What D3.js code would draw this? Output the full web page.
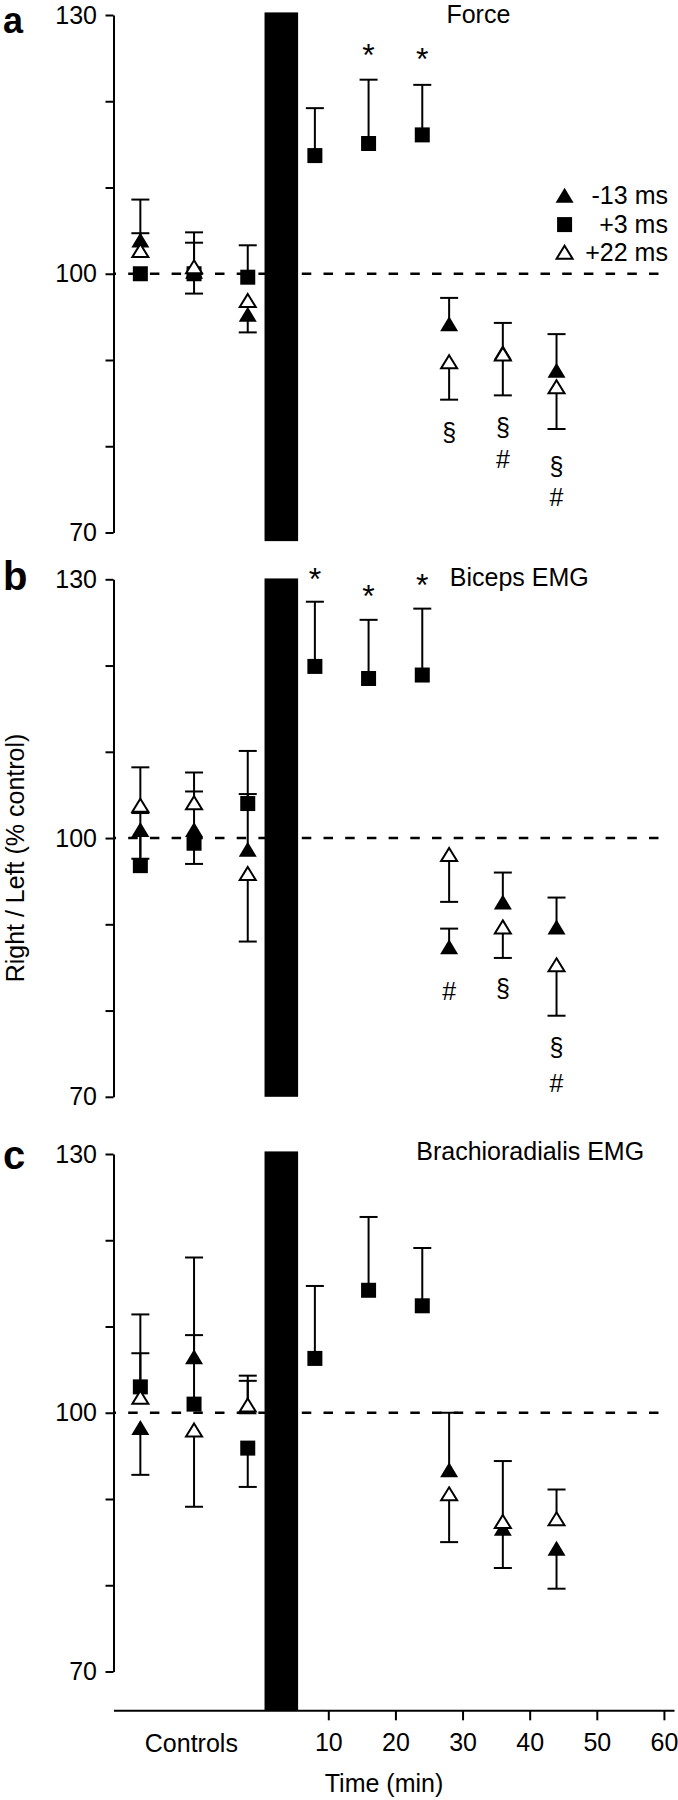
<!DOCTYPE html>
<html>
<head>
<meta charset="utf-8">
<script src="https://cdn.jsdelivr.net/npm/d3@7"></script>
<style>
  body { margin: 0; background: #fff; }
  svg text { font-family: "Liberation Sans", Arial, Helvetica, sans-serif; fill: #000; }
</style>
</head>
<body>
<div id="chart"></div>
<script>
// time points (min); controls at -18, -10, -2
var sqTimes = [-18, -10, -2, 8, 16, 24];
var triTimes = [-18, -10, -2, 28, 36, 44];
var xTicks = [10, 20, 30, 40, 50, 60];
var yTicks = [70, 80, 90, 100, 110, 120, 130];
var yLabels = [70, 100, 130];
var barSpan = [0.5, 5.5];

var panelNames = ["a", "b", "c"];
var panelTitles = ["Force", "Biceps EMG", "Brachioradialis EMG"];

// +3 ms (filled squares), signed error (+ up, - down)
var forceSq = [100.0, 100.0, 99.6, 113.7, 115.1, 116.1];
var forceSqErr = [0, -2.3, 3.7, 5.5, 7.4, 5.8];
// -13 ms (filled triangles)
var forceTriF = [103.9, 100.3, 95.3, 94.2, 90.9, 88.8];
var forceTriFErr = [4.7, 3.3, -2.1, 3.0, 3.4, 4.2];
// +22 ms (open triangles)
var forceTriO = [102.7, 100.8, 96.9, 89.8, 90.7, 86.9];
var forceTriOErr = [2.0, 4.0, 0, -4.4, -4.8, -4.9];

var bicSq = [96.8, 99.4, 104.0, 119.9, 118.5, 118.9];
var bicSqErr = [6.1, -2.4, 6.1, 7.5, 6.8, 7.7];
var bicTriF = [101.0, 101.0, 98.7, 87.4, 92.6, 89.7];
var bicTriFErr = [-3.4, 4.4, 6.4, 2.1, 3.4, 3.4];
var bicTriO = [103.8, 104.1, 95.9, 98.1, 89.7, 85.3];
var bicTriOErr = [4.4, 3.5, -7.9, -5.5, -3.6, -5.9];

var brSq = [103.0, 101.0, 95.9, 106.3, 114.2, 112.4];
var brSqErr = [8.4, 8.0, -4.5, 8.4, 8.5, 6.7];
var brTriF = [98.3, 106.5, 100.7, 93.4, 86.6, 84.3];
var brTriFErr = [-5.5, 11.5, 3.0, 6.6, -4.6, -4.7];
var brTriO = [101.8, 98.0, 100.9, 90.6, 87.4, 87.7];
var brTriOErr = [5.1, -8.9, 3.4, -5.6, 7.0, 3.4];

// significance marks: [time, value of baseline, symbol]
var forceMarks = [[16, 124.1, "*"], [24, 123.6, "*"], [28, 80.6, "§"],
  [36, 81.2, "§"], [36, 77.5, "#"], [44, 76.7, "§"], [44, 73.1, "#"]];
var bicMarks = [[8, 128.8, "*"], [16, 126.8, "*"], [24, 128.1, "*"],
  [28, 81.2, "#"], [36, 81.6, "§"], [44, 74.7, "§"], [44, 70.6, "#"]];
var brMarks = [];

var legendLabels = ["-13 ms", "+3 ms", "+22 ms"];
var legendKinds = ["triF", "sq", "triO"];
var legendRows = [109.1, 105.7, 102.5];

var panels = [
  { sq: forceSq, sqErr: forceSqErr, triF: forceTriF, triFErr: forceTriFErr, triO: forceTriO, triOErr: forceTriOErr,
    marks: forceMarks, barTop: 130.3, barBottom: 69, title: [27.6, 129.1], letterDy: 18, legend: true },
  { sq: bicSq, sqErr: bicSqErr, triF: bicTriF, triFErr: bicTriFErr, triO: bicTriO, triOErr: bicTriOErr,
    marks: bicMarks, barTop: 130.1, barBottom: 70, title: [28.1, 129.2], letterDy: 11 },
  { sq: brSq, sqErr: brSqErr, triF: brTriF, triFErr: brTriFErr, triO: brTriO, triOErr: brTriOErr,
    marks: brMarks, barTop: 130.3, barBottom: 65.5, title: [23.1, 129.3], letterDy: 15, xAxis: true }
];

var width = 678, height = 1800;
var panelTop = [15, 579.3, 1154], panelH = 517.5;
var capW = 18, sqSize = 15, triW = 18, triH = 15;

var svg = d3.select("#chart").append("svg")
  .attr("width", width)
  .attr("height", height);

var xScale = d3.scaleLinear().domain([-22, 61.5]).range([113.5, 674]);

function triPath(w, h) {
  return "M0," + (-h / 2) + "L" + (w / 2) + "," + (h / 2) + "L" + (-w / 2) + "," + (h / 2) + "Z";
}

function drawMarker(g, kind, x, y) {
  if (kind == "sq") {
    g.append("rect")
      .attr("x", x - sqSize / 2).attr("y", y - sqSize / 2)
      .attr("width", sqSize).attr("height", sqSize)
      .attr("fill", "#000");
  } else if (kind == "triF") {
    g.append("path").attr("d", triPath(triW, triH))
      .attr("transform", "translate(" + x + "," + y + ")")
      .attr("fill", "#000");
  } else {
    g.append("path").attr("d", triPath(triW - 2, triH - 2))
      .attr("transform", "translate(" + x + "," + y + ")")
      .attr("fill", "#fff").attr("stroke", "#000").attr("stroke-width", 2);
  }
}

panels.forEach(function (p, i) {
  var top = panelTop[i];
  var yScale = d3.scaleLinear().domain([70, 130]).range([top + panelH, top]);
  var g = svg.append("g");

  // dashed 100 % line
  g.append("line")
    .attr("x1", xScale(-22)).attr("x2", xScale(60.6))
    .attr("y1", yScale(100)).attr("y2", yScale(100))
    .attr("stroke", "#000").attr("stroke-width", 2.5)
    .attr("stroke-dasharray", "9.5,12.2")
    .attr("stroke-dashoffset", 7);

  // conditioning block
  g.append("rect")
    .attr("x", xScale(barSpan[0]))
    .attr("width", xScale(barSpan[1]) - xScale(barSpan[0]))
    .attr("y", yScale(p.barTop))
    .attr("height", yScale(p.barBottom) - yScale(p.barTop))
    .attr("fill", "#000");

  // y axis
  var yAxis = g.append("g")
    .attr("transform", "translate(" + xScale(-22) + ",0)")
    .call(d3.axisLeft(yScale).tickValues(yTicks).tickSize(8).tickSizeOuter(0).tickPadding(8.5)
      .tickFormat(function (d) { return yLabels.indexOf(d) >= 0 ? d : ""; }));
  yAxis.attr("font-size", null).attr("font-family", null);
  yAxis.selectAll("path, line").attr("stroke", "#000").attr("stroke-width", 2);
  yAxis.selectAll("text").style("font-size", "25px");

  var series = [
    { kind: "sq", t: sqTimes, v: p.sq, e: p.sqErr },
    { kind: "triF", t: triTimes, v: p.triF, e: p.triFErr },
    { kind: "triO", t: triTimes, v: p.triO, e: p.triOErr }
  ];

  // error bars first
  series.forEach(function (s) {
    s.v.forEach(function (v, k) {
      var e = s.e[k];
      if (!e) return;
      var x = xScale(s.t[k]);
      g.append("line")
        .attr("x1", x).attr("x2", x)
        .attr("y1", yScale(v)).attr("y2", yScale(v + e))
        .attr("stroke", "#000").attr("stroke-width", 2);
      g.append("line")
        .attr("x1", x - capW / 2).attr("x2", x + capW / 2)
        .attr("y1", yScale(v + e)).attr("y2", yScale(v + e))
        .attr("stroke", "#000").attr("stroke-width", 2);
    });
  });

  series.forEach(function (s) {
    s.v.forEach(function (v, k) {
      drawMarker(g, s.kind, xScale(s.t[k]), yScale(v));
    });
  });

  // significance symbols
  g.selectAll(".mark")
    .data(p.marks)
    .enter().append("text")
    .attr("class", "mark")
    .attr("x", function (d) { return xScale(d[0]); })
    .attr("y", function (d) { return yScale(d[1]); })
    .attr("text-anchor", "middle")
    .style("font-size", function (d) { return d[2] == "*" ? "32px" : "25px"; })
    .text(function (d) { return d[2]; });

  // title
  g.append("text")
    .attr("x", xScale(p.title[0]))
    .attr("y", yScale(p.title[1]))
    .style("font-size", "25px")
    .text(panelTitles[i]);

  // panel letter
  g.append("text")
    .attr("x", 3)
    .attr("y", top + p.letterDy)
    .style("font-size", i == 0 ? "36px" : "40px")
    .style("font-weight", "bold")
    .text(panelNames[i]);

  if (p.legend) {
    legendLabels.forEach(function (lab, k) {
      drawMarker(g, legendKinds[k], xScale(45.2), yScale(legendRows[k]));
      g.append("text")
        .attr("x", xScale(60.6))
        .attr("y", yScale(legendRows[k]) + 8.5)
        .attr("text-anchor", "end")
        .style("font-size", "25px")
        .text(lab);
    });
  }

  if (p.xAxis) {
    var axisY = yScale(p.barBottom);
    var xAxis = g.append("g")
      .attr("transform", "translate(0," + axisY + ")")
      .call(d3.axisBottom(xScale).tickValues(xTicks).tickSize(10).tickSizeOuter(0).tickPadding(13));
    xAxis.attr("font-size", null).attr("font-family", null);
    xAxis.selectAll("path, line").attr("stroke", "#000").attr("stroke-width", 2);
    xAxis.selectAll("text").style("font-size", "25px");

    g.append("text")
      .attr("x", xScale(-10.4))
      .attr("y", axisY + 41.5)
      .attr("text-anchor", "middle")
      .style("font-size", "25px")
      .text("Controls");

    g.append("text")
      .attr("x", xScale(18.3))
      .attr("y", axisY + 81.5)
      .attr("text-anchor", "middle")
      .style("font-size", "25px")
      .text("Time (min)");
  }
});

// shared y label
svg.append("text")
  .attr("transform", "translate(24,858)rotate(-90)")
  .attr("text-anchor", "middle")
  .style("font-size", "25px")
  .text("Right / Left (% control)");
</script>
</body>
</html>
